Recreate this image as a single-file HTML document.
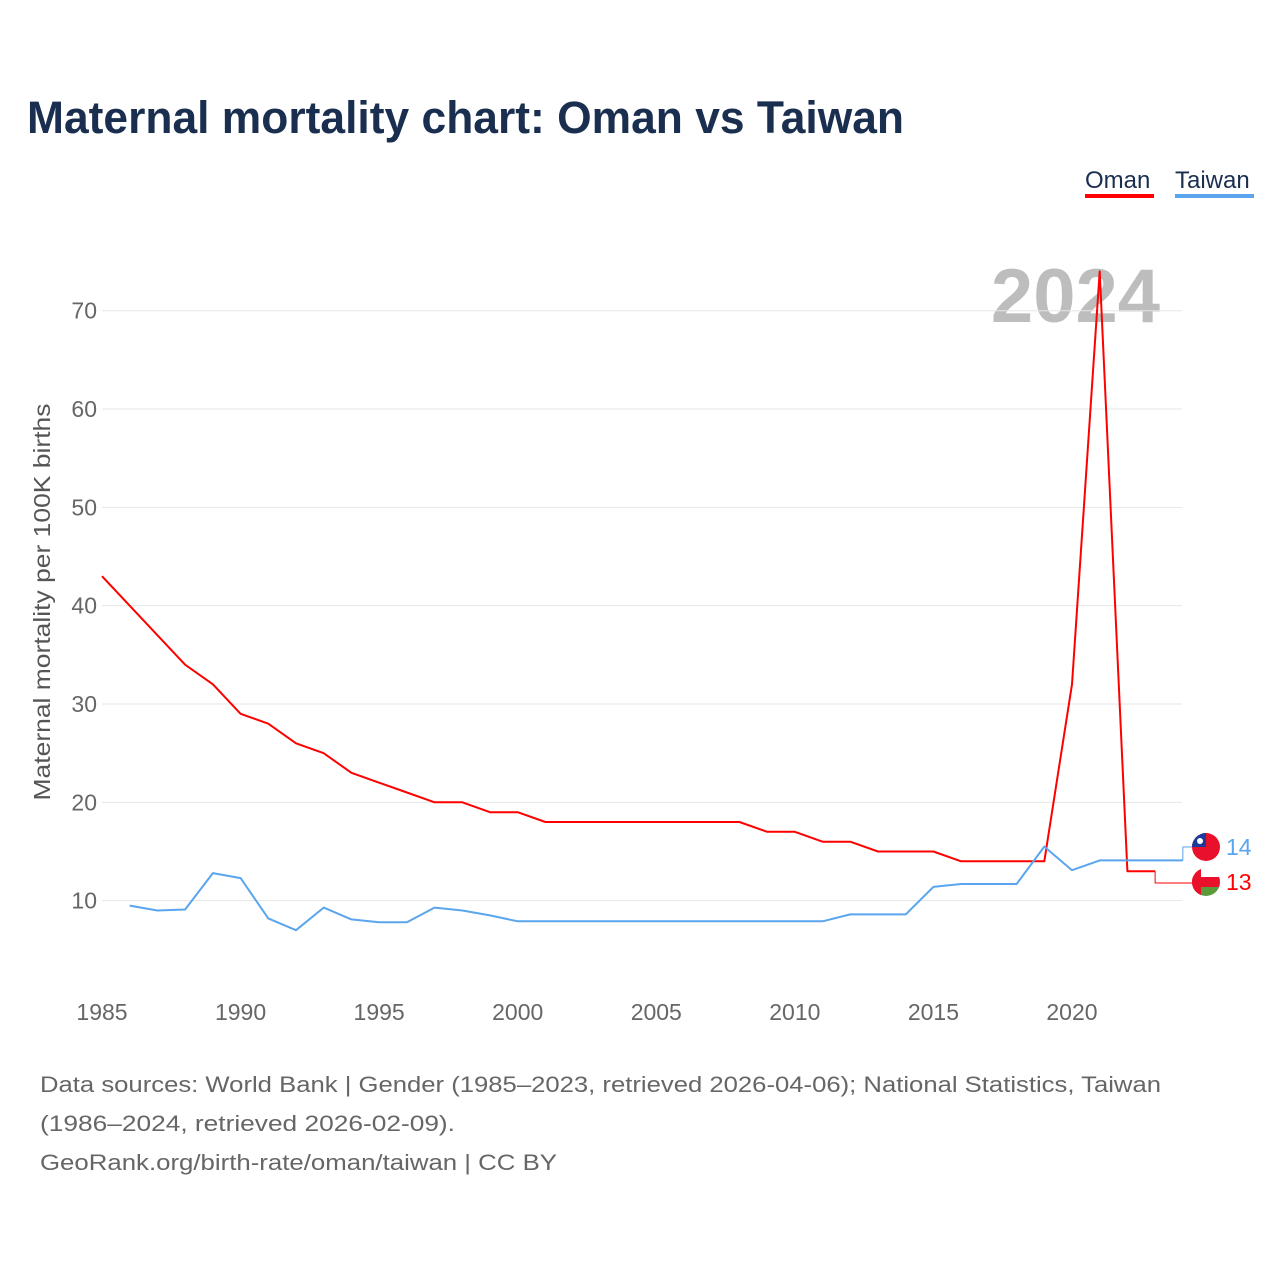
<!DOCTYPE html>
<html><head><meta charset="utf-8"><style>
body{margin:0;background:#fff;font-family:"Liberation Sans",sans-serif;}
</style></head><body>
<svg width="1280" height="1280" viewBox="0 0 1280 1280" xmlns="http://www.w3.org/2000/svg">
<defs>
<clipPath id="cT"><circle cx="1206" cy="847" r="14"/></clipPath>
<clipPath id="cO"><circle cx="1206" cy="882" r="14"/></clipPath>
</defs>
<text x="27" y="133" font-size="45" font-weight="bold" fill="#1a2e4f" textLength="877" lengthAdjust="spacingAndGlyphs">Maternal mortality chart: Oman vs Taiwan</text>
<g>
<text x="1085" y="188" font-size="24" fill="#1a2e4f">Oman</text>
<rect x="1085" y="194" width="69" height="4" fill="#ff0000"/>
<text x="1175" y="188" font-size="24" fill="#1a2e4f">Taiwan</text>
<rect x="1175" y="194" width="79" height="4" fill="#5aa5ee"/>
</g>
<text x="1160" y="322" font-size="76" font-weight="bold" fill="#bdbdbd" text-anchor="end">2024</text>
<g id="grid"></g><g id="xt"></g><g id="yt"></g>
<text transform="translate(50,602) rotate(-90)" font-size="23" fill="#555" text-anchor="middle" textLength="397" lengthAdjust="spacingAndGlyphs">Maternal mortality per 100K births</text>
<g id="lines"></g>
<g>
<g clip-path="url(#cT)">
<rect x="1192" y="833" width="28" height="28" fill="#e8102b"/>
<rect x="1192" y="833" width="14" height="14" fill="#1b3a9c"/>
<circle cx="1200" cy="841" r="3" fill="#fff"/>
</g>
<text x="1226" y="855" font-size="23" fill="#5aa5ee">14</text>
<g clip-path="url(#cO)">
<rect x="1192" y="868" width="28" height="28" fill="#fff"/>
<rect x="1192" y="877" width="28" height="10" fill="#e8102b"/>
<rect x="1192" y="887" width="28" height="9" fill="#5a9a3a"/>
<rect x="1192" y="868" width="9" height="28" fill="#e8102b"/>
</g>
<text x="1226" y="890" font-size="23" fill="#ff0000">13</text>
</g>
<g font-size="22" fill="#666">
<text x="40" y="1092" textLength="1121" lengthAdjust="spacingAndGlyphs">Data sources: World Bank | Gender (1985–2023, retrieved 2026-04-06); National Statistics, Taiwan</text>
<text x="40" y="1131" textLength="415" lengthAdjust="spacingAndGlyphs">(1986–2024, retrieved 2026-02-09).</text>
<text x="40" y="1170" textLength="517" lengthAdjust="spacingAndGlyphs">GeoRank.org/birth-rate/oman/taiwan | CC BY</text>
</g>
</svg>
<script>
const omanYears=[1985,1986,1987,1988,1989,1990,1991,1992,1993,1994,1995,1996,1997,1998,1999,2000,2001,2002,2003,2004,2005,2006,2007,2008,2009,2010,2011,2012,2013,2014,2015,2016,2017,2018,2019,2020,2021,2022,2023];
const omanValues=[43,40,37,34,32,29,28,26,25,23,22,21,20,20,19,19,18,18,18,18,18,18,18,18,17,17,16,16,15,15,15,14,14,14,14,32,74,13,13];
const taiwanYears=[1986,1987,1988,1989,1990,1991,1992,1993,1994,1995,1996,1997,1998,1999,2000,2001,2002,2003,2004,2005,2006,2007,2008,2009,2010,2011,2012,2013,2014,2015,2016,2017,2018,2019,2020,2021,2022,2023,2024];
const taiwanValues=[9.5,9.0,9.1,12.8,12.3,8.2,7.0,9.3,8.1,7.8,7.8,9.3,9.0,8.5,7.9,7.9,7.9,7.9,7.9,7.9,7.9,7.9,7.9,7.9,7.9,7.9,8.6,8.6,8.6,11.4,11.7,11.7,11.7,15.5,13.1,14.1,14.1,14.1,14.1];
const xTicks=[1985,1990,1995,2000,2005,2010,2015,2020];
const yTicks=[10,20,30,40,50,60,70];
const NS="http://www.w3.org/2000/svg";
const x=v=>102+(v-1985)*27.714;
const y=v=>999-v*9.833;
function mk(t,a,p){const e=document.createElementNS(NS,t);for(const k in a)e.setAttribute(k,a[k]);p.appendChild(e);return e;}
const grid=document.getElementById('grid'),xt=document.getElementById('xt'),yt=document.getElementById('yt'),L=document.getElementById('lines');
yTicks.forEach(v=>{
 const l=mk('line',{x1:102,x2:1182,y1:y(v),y2:y(v),stroke:'#e6e6e6','stroke-width':1},grid);
 
 
 const t=mk('text',{x:97,y:y(v)+8,'font-size':23,fill:'#666','text-anchor':'end'},yt);
 t.textContent=v;
 
 
});
xTicks.forEach(v=>{
 const t=mk('text',{x:x(v),y:1020,'font-size':23,fill:'#666','text-anchor':'middle'},xt);
 t.textContent=v;
 
 
});
function line(xs,vs,color,name){
 const d=xs.map((a,i)=>(i?'L':'M')+x(a).toFixed(1)+' '+y(vs[i]).toFixed(1)).join(' ');
 const p=mk('path',{d:d,fill:'none',stroke:color,'stroke-width':2,'stroke-linejoin':'round'},L);
 
 
}
line(omanYears,omanValues,'#ff0000','oman-line');
line(taiwanYears,taiwanValues,'#5aa5ee','taiwan-line');
const lo=omanYears.length-1,lt=taiwanYears.length-1;
const c1=mk('path',{d:`M${x(omanYears[lo])} ${y(omanValues[lo])} V883 H1192`,fill:'none',stroke:'#ff0000','stroke-width':1},L);


const c2=mk('path',{d:`M${x(taiwanYears[lt])} ${y(taiwanValues[lt])} V847 H1192`,fill:'none',stroke:'#5aa5ee','stroke-width':1},L);


</script>
</body></html>
